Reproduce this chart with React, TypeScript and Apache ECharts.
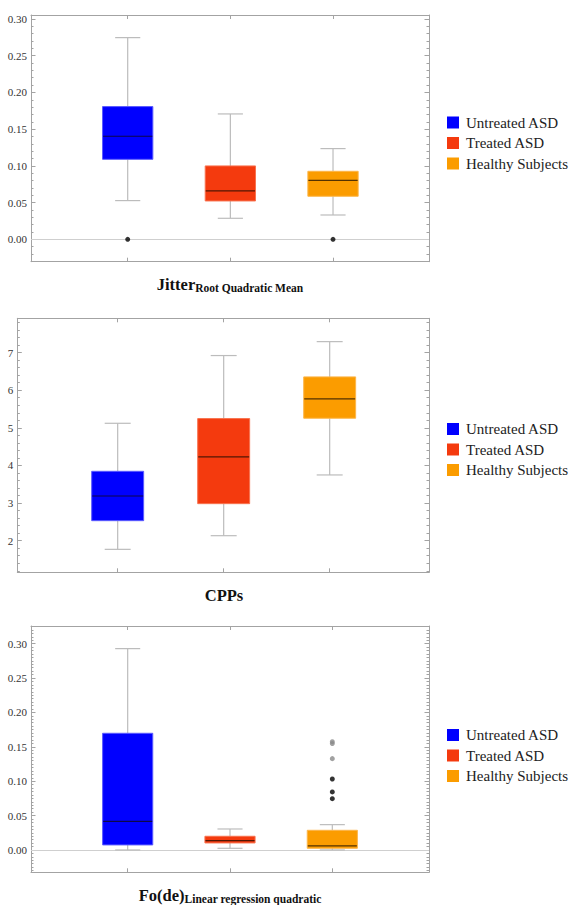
import React, { useEffect, useRef } from "react";
import * as echarts from "echarts";

const categories = ["Untreated ASD", "Treated ASD", "Healthy Subjects"];
const groupColors = ["#0000ff", "#f43a0e", "#fb9c00"];
const groupBorders = ["#5a5aff", "#f8724f", "#fcb64a"];
const groupX = [1, 2, 3];

// [min, Q1, median, Q3, max]
const jitterStats = [
  [0.0527, 0.1089, 0.1403, 0.1807, 0.2746],
  [0.0286, 0.0522, 0.0658, 0.0999, 0.1707],
  [0.0331, 0.0586, 0.0803, 0.0926, 0.1235],
];
const jitterOutliers = [
  [1, 0],
  [3, 0],
];
const jitterTicks = [0, 0.05, 0.1, 0.15, 0.2, 0.25, 0.3];

const cppsStats = [
  [1.77, 2.532, 3.188, 3.844, 5.12],
  [2.133, 2.984, 4.225, 5.245, 6.92],
  [3.747, 5.254, 5.768, 6.353, 7.29],
];
const cppsTicks = [2, 3, 4, 5, 6, 7];

const foStats = [
  [0.0, 0.0073, 0.0417, 0.1697, 0.2928],
  [0.0024, 0.0102, 0.0136, 0.0199, 0.0305],
  [0.0, 0.0024, 0.0058, 0.0286, 0.0368],
];
const foFarOutliers = [
  [3, 0.1575],
  [3, 0.1547],
  [3, 0.1328],
];
const foOutliers = [
  [3, 0.1032],
  [3, 0.0844],
  [3, 0.0746],
];
const foTicks = [0, 0.05, 0.1, 0.15, 0.2, 0.25, 0.3];

const FONT = "'Liberation Serif', 'Times New Roman', serif";
const FRAME = "#a3a3a3";
const WHISKER = "#bcbcbc";

type Panel = {
  grid: { left: number; top: number; width: number; height: number };
  xMin: number;
  xMax: number;
  yMin: number;
  yMax: number;
  ticks: number[];
  minorStep: number;
  decimals: number;
  stats: number[][];
  zeroLine: boolean;
  legendTop: number;
  title: string;
  sub: string;
  titleX: number;
  titleY: number;
};

const panels: Panel[] = [
  {
    grid: { left: 31, top: 15, width: 398, height: 246.7 },
    xMin: 0.058, xMax: 3.935, yMin: -0.0305, yMax: 0.3054,
    ticks: jitterTicks, minorStep: 0.01, decimals: 2,
    stats: jitterStats, zeroLine: true, legendTop: 115,
    title: "Jitter", sub: "Root Quadratic Mean", titleX: 230, titleY: 284,
  },
  {
    grid: { left: 17.3, top: 318.3, width: 411.7, height: 254 },
    xMin: 0.053, xMax: 3.937, yMin: 1.16, yMax: 7.91,
    ticks: cppsTicks, minorStep: 0.2, decimals: 0,
    stats: cppsStats, zeroLine: false, legendTop: 421.5,
    title: "CPPs", sub: "", titleX: 224, titleY: 595,
  },
  {
    grid: { left: 31, top: 626, width: 398, height: 246.3 },
    xMin: 0.055, xMax: 3.945, yMin: -0.0325, yMax: 0.3257,
    ticks: foTicks, minorStep: 0.005, decimals: 2,
    stats: foStats, zeroLine: true, legendTop: 727.5,
    title: "Fo(de)", sub: "Linear regression quadratic", titleX: 230, titleY: 895,
  },
];

function minorValues(min: number, max: number, step: number): number[] {
  const out: number[] = [];
  const start = Math.ceil(min / step - 1e-9);
  const end = Math.floor(max / step + 1e-9);
  for (let i = start; i <= end; i++) out.push(+(i * step).toFixed(6));
  return out;
}

function buildOption() {
  const grid: any[] = [];
  const xAxis: any[] = [];
  const yAxis: any[] = [];
  const series: any[] = [];
  const legend: any[] = [];
  const graphic: any[] = [];

  panels.forEach((p, pi) => {
    grid.push({ ...p.grid, containLabel: false });
    const xBase = {
      type: "value",
      gridIndex: pi,
      min: p.xMin,
      max: p.xMax,
      splitLine: { show: false },
      axisLabel: { show: false },
      axisLine: { show: true, onZero: false, lineStyle: { color: FRAME, width: 1 } },
      axisTick: { show: true, inside: true, length: 4, customValues: groupX, lineStyle: { color: FRAME } },
    };
    const xb = xAxis.length;
    xAxis.push({ ...xBase, position: "bottom" });
    xAxis.push({ ...xBase, position: "top" });

    const minors = minorValues(p.yMin, p.yMax, p.minorStep);
    const yBase = {
      type: "value",
      gridIndex: pi,
      min: p.yMin,
      max: p.yMax,
      splitLine: { show: false },
    };
    const yi = yAxis.length;
    yAxis.push({
      ...yBase,
      position: "left",
      axisLine: { show: true, onZero: false, lineStyle: { color: FRAME, width: 1 } },
      axisTick: { show: true, inside: true, length: 4.5, customValues: p.ticks, lineStyle: { color: FRAME } },
      axisLabel: {
        show: true,
        customValues: p.ticks,
        margin: 4,
        color: "#333",
        fontFamily: FONT,
        fontSize: 11,
        formatter: (v: number) => v.toFixed(p.decimals),
      },
    });
    yAxis.push({
      ...yBase,
      position: "left",
      axisLine: { show: false, onZero: false },
      axisTick: { show: true, inside: true, length: 2.5, customValues: minors, lineStyle: { color: FRAME } },
      axisLabel: { show: false },
    });
    yAxis.push({
      ...yBase,
      position: "right",
      axisLine: { show: true, onZero: false, lineStyle: { color: FRAME, width: 1 } },
      axisTick: { show: true, inside: true, length: 4.5, customValues: p.ticks, lineStyle: { color: FRAME } },
      axisLabel: { show: false },
    });
    yAxis.push({
      ...yBase,
      position: "right",
      axisLine: { show: false, onZero: false },
      axisTick: { show: true, inside: true, length: 2.5, customValues: minors, lineStyle: { color: FRAME } },
      axisLabel: { show: false },
    });

    const outlierSeries: any = {
      type: "scatter",
      xAxisIndex: xb,
      yAxisIndex: yi,
      symbolSize: 5,
      itemStyle: { color: "#000" },
      data: pi === 0 ? jitterOutliers : pi === 2 ? foOutliers : [],
      z: 3,
    };
    if (p.zeroLine) {
      outlierSeries.markLine = {
        silent: true,
        symbol: "none",
        label: { show: false },
        lineStyle: { color: "#cfcfcf", width: 1, type: "solid" },
        data: [{ yAxis: 0 }],
        z: 1,
      };
    }
    series.push(outlierSeries);
    if (pi === 2) {
      series.push({
        type: "scatter",
        xAxisIndex: xb,
        yAxisIndex: yi,
        symbolSize: 5,
        itemStyle: { color: "#8a8a8a" },
        data: foFarOutliers,
        z: 3,
      });
    }

    categories.forEach((name, gi) => {
      const s = p.stats[gi];
      series.push({
        type: "custom",
        name,
        xAxisIndex: xb,
        yAxisIndex: yi,
        itemStyle: { color: groupColors[gi] },
        encode: { x: 0, y: [1, 2, 3, 4, 5] },
        data: [[groupX[gi], ...s]],
        z: 2,
        renderItem: (params: any, api: any) => {
          const x = api.value(0);
          const pMin = api.coord([x, api.value(1)]);
          const pQ1 = api.coord([x, api.value(2)]);
          const pMed = api.coord([x, api.value(3)]);
          const pQ3 = api.coord([x, api.value(4)]);
          const pMax = api.coord([x, api.value(5)]);
          const unit = api.size([1, 0])[0];
          const bw = unit * 0.49;
          const cw = unit * 0.245;
          const cx = pMin[0];
          const wStyle = { stroke: WHISKER, lineWidth: 1.2 };
          return {
            type: "group",
            children: [
              { type: "line", shape: { x1: cx, y1: pMax[1], x2: cx, y2: pQ3[1] }, style: wStyle },
              { type: "line", shape: { x1: cx, y1: pQ1[1], x2: cx, y2: pMin[1] }, style: wStyle },
              { type: "line", shape: { x1: cx - cw / 2, y1: pMax[1], x2: cx + cw / 2, y2: pMax[1] }, style: wStyle },
              { type: "line", shape: { x1: cx - cw / 2, y1: pMin[1], x2: cx + cw / 2, y2: pMin[1] }, style: wStyle },
              {
                type: "rect",
                shape: { x: cx - bw / 2, y: pQ3[1], width: bw, height: pQ1[1] - pQ3[1] },
                style: { fill: groupColors[gi], stroke: groupBorders[gi], lineWidth: 1 },
              },
              {
                type: "line",
                shape: { x1: cx - bw / 2 + 0.5, y1: pMed[1], x2: cx + bw / 2 - 0.5, y2: pMed[1] },
                style: { stroke: "rgba(20,10,0,0.72)", lineWidth: 1.2 },
              },
            ],
          };
        },
      });
    });

    legend.push({
      orient: "vertical",
      left: 447,
      top: p.legendTop,
      padding: 0,
      itemWidth: 12,
      itemHeight: 12,
      itemGap: 5.5,
      icon: "rect",
      data: categories,
      selectedMode: false,
      textStyle: { fontFamily: FONT, fontSize: 15, color: "#222", lineHeight: 14, padding: [0, 0, 0, 2] },
    });

    const text = p.sub ? `{a|${p.title}}{b|${p.sub}}` : `{a|${p.title}}`;
    graphic.push({
      type: "text",
      x: p.titleX,
      y: p.titleY,
      style: {
        text,
        align: "center",
        verticalAlign: "middle",
        rich: {
          a: { fontFamily: FONT, fontWeight: "bold", fontSize: 16.5, fill: "#111" },
          b: { fontFamily: FONT, fontWeight: "bold", fontSize: 11.5, fill: "#111", padding: [7, 0, 0, 0] },
        },
      },
    });
  });

  return {
    animation: false,
    backgroundColor: "#ffffff",
    textStyle: { fontFamily: FONT },
    grid,
    xAxis,
    yAxis,
    legend,
    series,
    graphic,
  };
}

export default function App() {
  const ref = useRef<HTMLDivElement>(null);
  useEffect(() => {
    if (!ref.current) return;
    const chart = echarts.init(ref.current, undefined, { renderer: "svg" });
    chart.setOption(buildOption() as any);
    return () => chart.dispose();
  }, []);
  return (
    <div
      ref={ref}
      style={{ position: "absolute", left: 0, top: 0, width: 572, height: 905, background: "#fff" }}
    />
  );
}
